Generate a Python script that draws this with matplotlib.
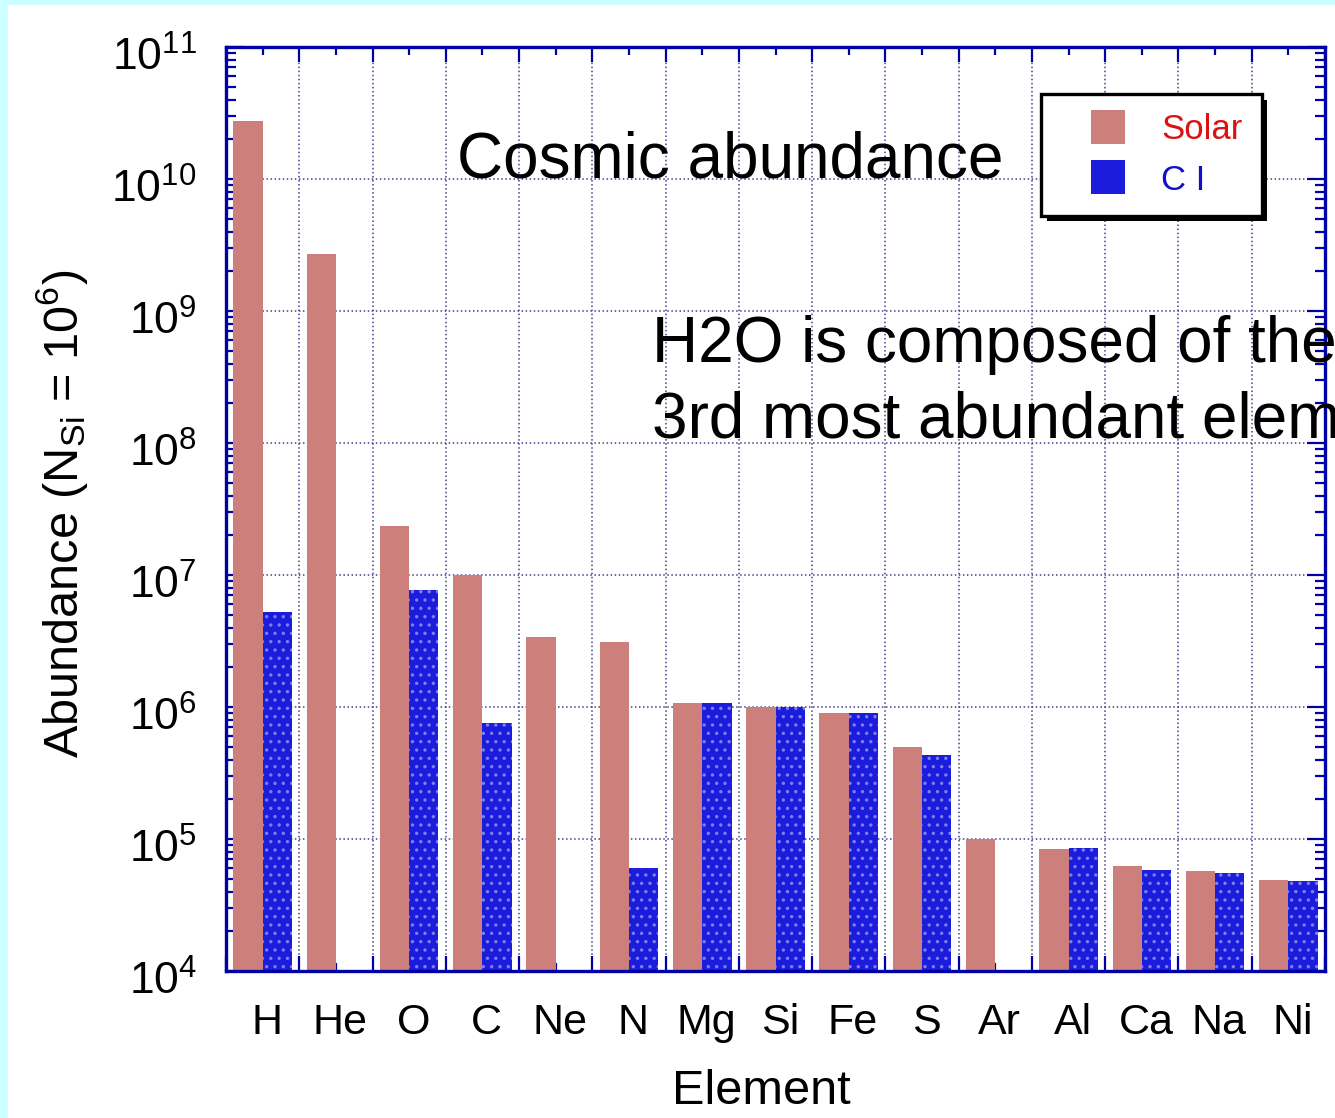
"""Cosmic abundance bar chart (Solar vs CI), log scale."""

import numpy as np
import matplotlib
matplotlib.use("Agg")
import matplotlib.pyplot as plt
from matplotlib import patheffects
from matplotlib.lines import Line2D
from matplotlib.patches import Rectangle
from matplotlib.transforms import ScaledTranslation
from matplotlib.ticker import FixedLocator, NullFormatter, LogLocator

plt.rcParams["font.family"] = ["Liberation Sans", "DejaVu Sans"]
plt.rcParams["mathtext.fontset"] = "custom"
plt.rcParams["mathtext.rm"] = "Liberation Sans"
plt.rcParams["mathtext.it"] = "Liberation Sans:italic"
plt.rcParams["hatch.linewidth"] = 1.2

# ── Data ─────────────────────────────────────────────────────────────────────
elements = ["H", "He", "O", "C", "Ne", "N", "Mg", "Si", "Fe", "S", "Ar", "Al", "Ca", "Na", "Ni"]
solar = [2.75e10, 2.7e9, 2.35e7, 1.0e7, 3.4e6, 3.1e6, 1.07e6, 1.0e6, 9.0e5, 5.0e5,
         1.0e5, 8.4e4, 6.2e4, 5.7e4, 4.9e4]
ci = [5.2e6, np.nan, 7.7e6, 7.6e5, np.nan, 6.0e4, 1.07e6, 1.0e6, 9.0e5, 4.3e5,
      np.nan, 8.5e4, 5.8e4, 5.5e4, 4.8e4]

SOLAR_COLOR = "#cd7f7b"
CI_COLOR = "#1c1cdc"
AXIS_BLUE = "#0000a8"

fig = plt.figure(figsize=(13.35, 11.18), dpi=100, facecolor="#ccffff")
# white page inside the cyan border
fig.patches.append(Rectangle((8 / 1335, 0), 1, 1 - 5 / 1118, transform=fig.transFigure,
                             facecolor="white", edgecolor="none", zorder=-5))

ax = fig.add_axes([226 / 1335, 1 - 971 / 1118, 1099 / 1335, 924 / 1118])
ax.set_facecolor("white")

x = np.arange(len(elements))
width = 0.4
ax.bar(x - width / 2, solar, width, color=SOLAR_COLOR, linewidth=0, zorder=3)
ax.bar(x + width / 2, ci, width, color=CI_COLOR, hatch="..", edgecolor="#8080f0",
       linewidth=0, zorder=3)

ax.set_yscale("log")
ax.set_ylim(1e4, 1e11)
ax.set_xlim(-0.5, len(elements) - 0.5)

# ticks: category boundaries major, centres minor
ax.xaxis.set_major_locator(FixedLocator(np.arange(-0.5, len(elements) + 0.5, 1)))
ax.xaxis.set_major_formatter(NullFormatter())
ax.xaxis.set_minor_locator(FixedLocator(x))
ax.set_xticklabels(elements, minor=True)
ax.yaxis.set_major_locator(LogLocator(base=10, numticks=20))
ax.yaxis.set_minor_locator(LogLocator(base=10, subs=np.arange(2, 10), numticks=20))

ax.tick_params(axis="both", which="both", direction="in", color=AXIS_BLUE,
               top=True, right=True, width=1.6)
ax.tick_params(axis="y", which="major", length=13, pad=21, labelsize=32)
ax.tick_params(axis="y", which="minor", length=7, labelleft=False)
ax.tick_params(axis="x", which="major", length=11)
ax.tick_params(axis="x", which="minor", length=6, pad=23, labelsize=31)

for sp in ax.spines.values():
    sp.set_color(AXIS_BLUE)
    sp.set_linewidth(2.4)
    sp.set_zorder(5)

ax.grid(True, which="major", linestyle=":", color="#40408a", linewidth=1.1, zorder=1)
ax.set_axisbelow(True)

ax.set_xlabel("Element", fontsize=35)
ax.xaxis.set_label_coords(0.487, -0.106)
ax.set_ylabel(r"Abundance (N$_{\mathrm{Si}}$ = 10$^{6}$)", fontsize=35)
ax.yaxis.set_label_coords(-0.124, 0.495)

# legend with hard black shadow
handles = [
    Line2D([], [], linestyle="none", marker="s", markersize=25, markeredgewidth=0,
           color=SOLAR_COLOR),
    Line2D([], [], linestyle="none", marker="s", markersize=25, markeredgewidth=0,
           color=CI_COLOR),
]
leg = ax.legend(handles, ["Solar", "C I"], loc="upper left",
                bbox_to_anchor=(0.742, 0.949), borderaxespad=0, fontsize=25,
                labelcolor=["#dd1111", "#1010cc"], frameon=True, fancybox=False,
                edgecolor="black", framealpha=1, borderpad=0.55, handlelength=2.75,
                handletextpad=0.15, labelspacing=0.5)
leg.get_frame().set_linewidth(2.4)
leg.get_frame().set_path_effects([
    patheffects.SimplePatchShadow(offset=(4, -4), shadow_rgbFace="black", alpha=1),
    patheffects.Normal(),
])
leg.set_zorder(6)

fig.text(457 / 1335, 1 - 160 / 1118, "Cosmic abundance", fontsize=46, va="center")
fig.text(652 / 1335, 1 - 383 / 1118,
         "H2O is composed of the 1st and\n3rd most abundant elements",
         fontsize=46, va="center", linespacing=1.33)

# nudge tick labels a little (y labels down, x labels right) like the original
fig.canvas.draw()
for lbl in ax.get_yticklabels():
    lbl.set_transform(lbl.get_transform() + ScaledTranslation(0, -5 / 72, fig.dpi_scale_trans))
for lbl in ax.get_xticklabels(minor=True):
    lbl.set_transform(lbl.get_transform() + ScaledTranslation(3 / 72, 0, fig.dpi_scale_trans))

fig.savefig("out.png", dpi=100, facecolor=fig.get_facecolor())
